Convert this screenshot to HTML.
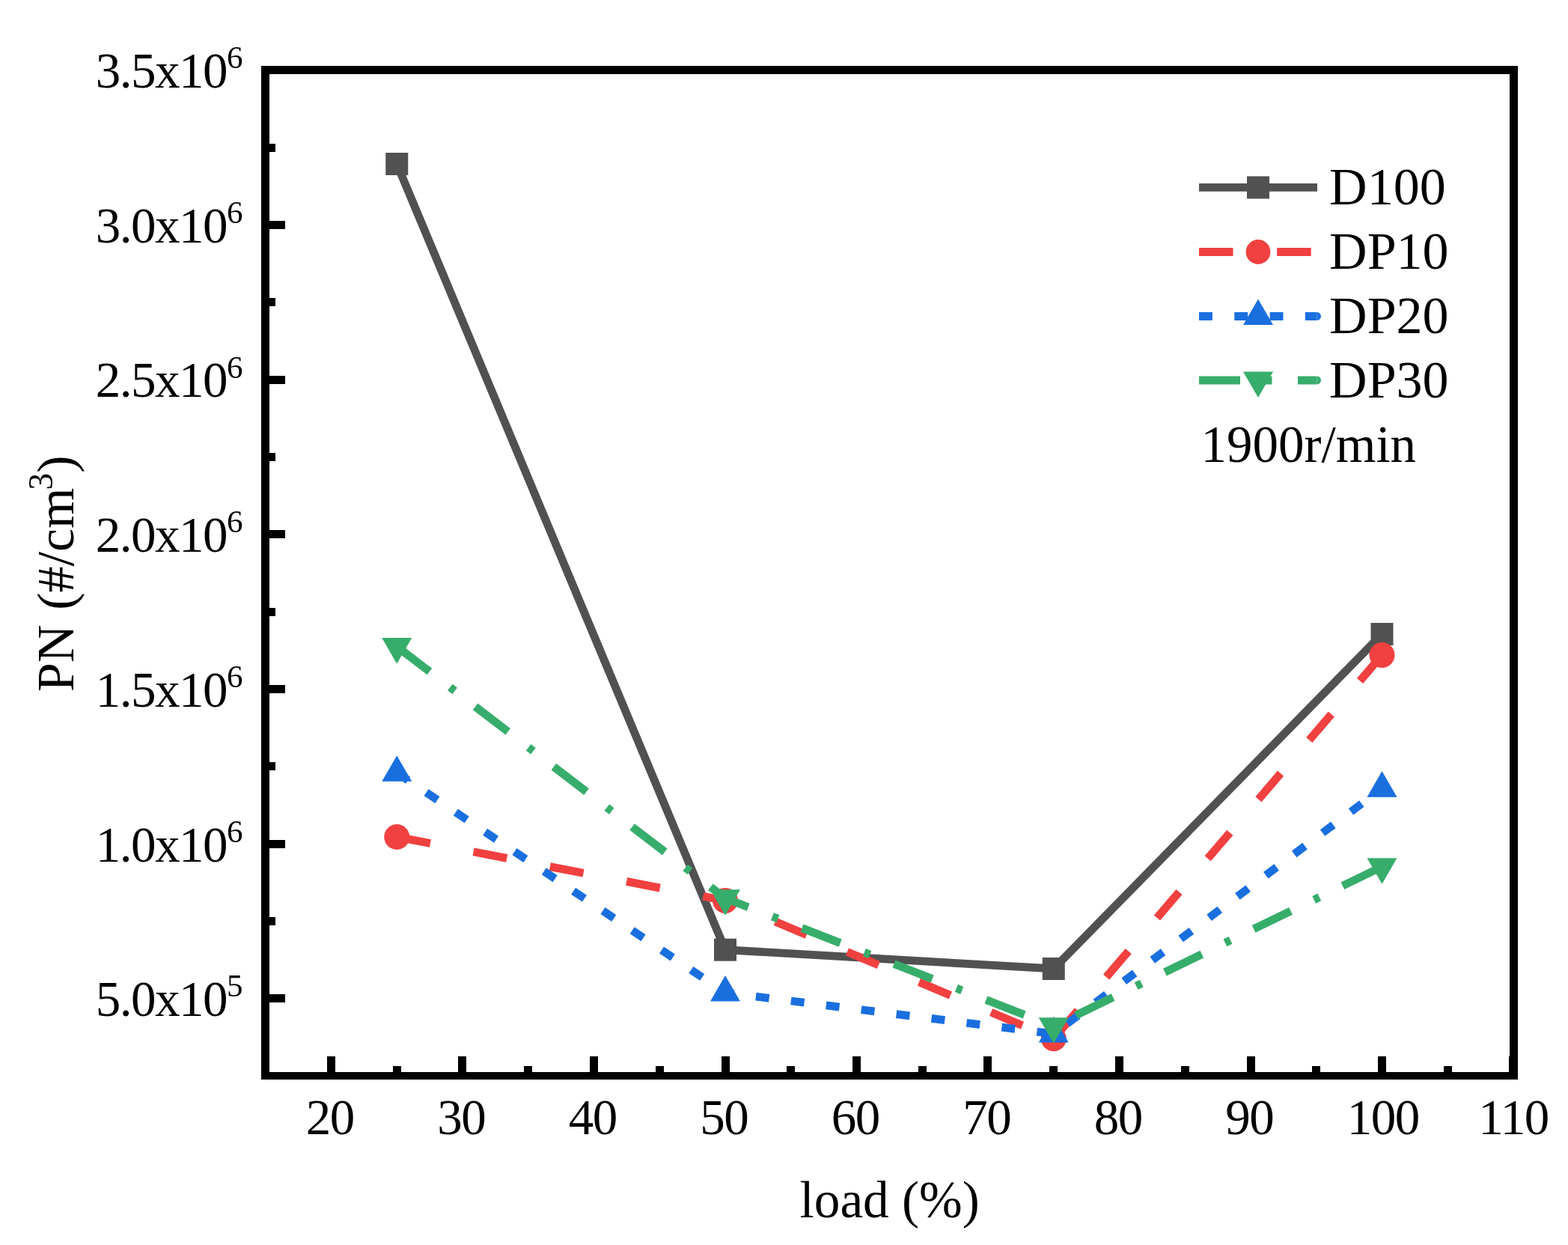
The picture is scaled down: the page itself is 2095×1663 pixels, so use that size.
<!DOCTYPE html>
<html><head><meta charset="utf-8"><title>PN vs load</title>
<style>html,body{margin:0;padding:0;background:#fff;}svg{display:block;}</style>
</head><body>
<svg width="2095" height="1663" viewBox="0 0 2095 1663">
<rect width="2095" height="1663" fill="#fff"/>
<polyline points="530.25,219 969,1268.7 1407.75,1294 1846.5,847" fill="none" stroke="#515151" stroke-width="10.8" stroke-linejoin="miter"/>
<rect x="515.25" y="204" width="30" height="30" fill="#515151"/>
<rect x="954" y="1253.7" width="30" height="30" fill="#515151"/>
<rect x="1392.75" y="1279" width="30" height="30" fill="#515151"/>
<rect x="1831.5" y="832" width="30" height="30" fill="#515151"/>
<line x1="530.25" y1="1117.9" x2="969" y2="1203" stroke="#F14040" stroke-width="10.8" stroke-dasharray="45.5 58.7" stroke-dashoffset="0"/>
<line x1="969" y1="1203" x2="1407.75" y2="1387.3" stroke="#F14040" stroke-width="10.8" stroke-dasharray="45.5 58.7" stroke-dashoffset="31.7"/>
<line x1="1407.75" y1="1387.3" x2="1846.5" y2="875" stroke="#F14040" stroke-width="10.8" stroke-dasharray="45.5 58.7" stroke-dashoffset="100.2"/>
<circle cx="530.25" cy="1117.9" r="17" fill="#F14040"/>
<circle cx="969" cy="1203" r="17" fill="#F14040"/>
<circle cx="1407.75" cy="1387.3" r="17" fill="#F14040"/>
<circle cx="1846.5" cy="875" r="17" fill="#F14040"/>
<line x1="530.25" y1="1032.3" x2="969" y2="1326" stroke="#1A6FDF" stroke-width="10.8" stroke-dasharray="17.9 29.4" stroke-dashoffset="0"/>
<line x1="969" y1="1326" x2="1407.75" y2="1380.9" stroke="#1A6FDF" stroke-width="10.8" stroke-dasharray="17.9 29.4" stroke-dashoffset="6.1"/>
<line x1="1407.75" y1="1380.9" x2="1846.5" y2="1053.2" stroke="#1A6FDF" stroke-width="10.8" stroke-dasharray="17.9 29.4" stroke-dashoffset="24.5"/>
<polygon points="530.25,1009.21 510.25,1043.85 550.25,1043.85" fill="#1A6FDF"/>
<polygon points="969,1302.91 949,1337.55 989,1337.55" fill="#1A6FDF"/>
<polygon points="1407.75,1357.81 1387.75,1392.45 1427.75,1392.45" fill="#1A6FDF"/>
<polygon points="1846.5,1030.11 1826.5,1064.75 1866.5,1064.75" fill="#1A6FDF"/>
<line x1="530.25" y1="863.6" x2="969" y2="1199.7" stroke="#37AD6B" stroke-width="10.8" stroke-dasharray="55 34.5 8 34.5" stroke-dashoffset="0"/>
<line x1="969" y1="1199.7" x2="1407.75" y2="1370.7" stroke="#37AD6B" stroke-width="10.8" stroke-dasharray="55 34.5 8 34.5" stroke-dashoffset="22"/>
<line x1="1407.75" y1="1370.7" x2="1846.5" y2="1157.7" stroke="#37AD6B" stroke-width="10.8" stroke-dasharray="55 34.5 8 34.5" stroke-dashoffset="98.8"/>
<polygon points="530.25,886.69 510.25,852.05 550.25,852.05" fill="#37AD6B"/>
<polygon points="969,1222.79 949,1188.15 989,1188.15" fill="#37AD6B"/>
<polygon points="1407.75,1393.79 1387.75,1359.15 1427.75,1359.15" fill="#37AD6B"/>
<polygon points="1846.5,1180.79 1826.5,1146.15 1866.5,1146.15" fill="#37AD6B"/>
<g fill="#000">
<rect x="349" y="88" width="1679" height="11"/>
<rect x="349" y="1432" width="1679" height="10"/>
<rect x="349" y="88" width="11" height="1354"/>
<rect x="2017" y="88" width="11" height="1354"/>
<rect x="437" y="1411" width="11" height="21"/>
<rect x="612" y="1411" width="11" height="21"/>
<rect x="788" y="1411" width="11" height="21"/>
<rect x="964" y="1411" width="11" height="21"/>
<rect x="1139" y="1411" width="11" height="21"/>
<rect x="1314" y="1411" width="11" height="21"/>
<rect x="1490" y="1411" width="11" height="21"/>
<rect x="1666" y="1411" width="11" height="21"/>
<rect x="1841" y="1411" width="11" height="21"/>
<rect x="2016" y="1411" width="11" height="21"/>
<rect x="525" y="1424" width="11" height="8"/>
<rect x="700" y="1424" width="11" height="8"/>
<rect x="876" y="1424" width="11" height="8"/>
<rect x="1051" y="1424" width="11" height="8"/>
<rect x="1227" y="1424" width="11" height="8"/>
<rect x="1402" y="1424" width="11" height="8"/>
<rect x="1578" y="1424" width="11" height="8"/>
<rect x="1753" y="1424" width="11" height="8"/>
<rect x="1929" y="1424" width="11" height="8"/>
<rect x="360" y="88" width="21" height="11"/>
<rect x="360" y="295" width="21" height="11"/>
<rect x="360" y="502" width="21" height="11"/>
<rect x="360" y="708" width="21" height="11"/>
<rect x="360" y="915" width="21" height="11"/>
<rect x="360" y="1122" width="21" height="11"/>
<rect x="360" y="1328" width="21" height="11"/>
<rect x="360" y="192" width="8" height="11"/>
<rect x="360" y="398" width="8" height="11"/>
<rect x="360" y="605" width="8" height="11"/>
<rect x="360" y="812" width="8" height="11"/>
<rect x="360" y="1018" width="8" height="11"/>
<rect x="360" y="1225" width="8" height="11"/>
</g>
<g font-family="Liberation Serif, Times New Roman, serif" font-size="67" letter-spacing="-1.5" fill="#000">
<text x="408.75" y="1515.3">20</text>
<text x="584.25" y="1515.3">30</text>
<text x="759.75" y="1515.3">40</text>
<text x="935.25" y="1515.3">50</text>
<text x="1110.75" y="1515.3">60</text>
<text x="1286.25" y="1515.3">70</text>
<text x="1461.75" y="1515.3">80</text>
<text x="1637.25" y="1515.3">90</text>
<text x="1799.75" y="1515.3">100</text>
<text x="1975.25" y="1515.3">110</text>
<text x="127.8" y="117">3.5x10<tspan font-size="43" dy="-25.8">6</tspan></text>
<text x="127.8" y="323.7">3.0x10<tspan font-size="43" dy="-25.8">6</tspan></text>
<text x="127.8" y="530.4">2.5x10<tspan font-size="43" dy="-25.8">6</tspan></text>
<text x="127.8" y="737.1">2.0x10<tspan font-size="43" dy="-25.8">6</tspan></text>
<text x="127.8" y="943.8">1.5x10<tspan font-size="43" dy="-25.8">6</tspan></text>
<text x="127.8" y="1150.5">1.0x10<tspan font-size="43" dy="-25.8">6</tspan></text>
<text x="127.8" y="1357.2">5.0x10<tspan font-size="43" dy="-25.8">5</tspan></text>
</g>
<text font-family="Liberation Serif, Times New Roman, serif" font-size="69.2" x="1068.6" y="1625.9">load (%)</text>
<text font-family="Liberation Serif, Times New Roman, serif" font-size="70" transform="translate(98,924) rotate(-90)">PN <tspan dx="2.3">(#/cm</tspan><tspan font-size="45.4" dx="-3.1" dy="-28">3</tspan><tspan dy="28">)</tspan></text>
<line x1="1602" y1="250.45" x2="1760" y2="250.45" stroke="#515151" stroke-width="10.8"/>
<rect x="1666" y="235.45" width="30" height="30" fill="#515151"/>
<text font-family="Liberation Serif, Times New Roman, serif" font-size="70" x="1776.1" y="272.65">D100</text>
<line x1="1602" y1="336.5" x2="1760" y2="336.5" stroke="#F14040" stroke-width="10.8" stroke-dasharray="45.5 58.7"/>
<circle cx="1681" cy="336.5" r="16.4" fill="#F14040"/>
<text font-family="Liberation Serif, Times New Roman, serif" font-size="70" x="1776.1" y="358.7">DP10</text>
<line x1="1602" y1="422.5" x2="1759.6" y2="422.5" stroke="#1A6FDF" stroke-width="10.8" stroke-dasharray="17.9 29.4"/>
<path d="M1759.6,417.1 a5.4,5.4 0 0 1 0,10.8 z" fill="#1A6FDF"/>
<polygon points="1681,399.41 1661,434.05 1701,434.05" fill="#1A6FDF"/>
<text font-family="Liberation Serif, Times New Roman, serif" font-size="70" x="1776.1" y="444.7">DP20</text>
<line x1="1602" y1="508" x2="1759.6" y2="508" stroke="#37AD6B" stroke-width="10.8" stroke-dasharray="55 34.5 8 34.5"/>
<path d="M1759.6,502.6 a5.4,5.4 0 0 1 0,10.8 z" fill="#37AD6B"/>
<polygon points="1681,531.09 1661,496.45 1701,496.45" fill="#37AD6B"/>
<text font-family="Liberation Serif, Times New Roman, serif" font-size="70" x="1776.1" y="530.7">DP30</text>
<text font-family="Liberation Serif, Times New Roman, serif" font-size="69" x="1604.6" y="617.1">1900r/min</text>
</svg>
</body></html>
